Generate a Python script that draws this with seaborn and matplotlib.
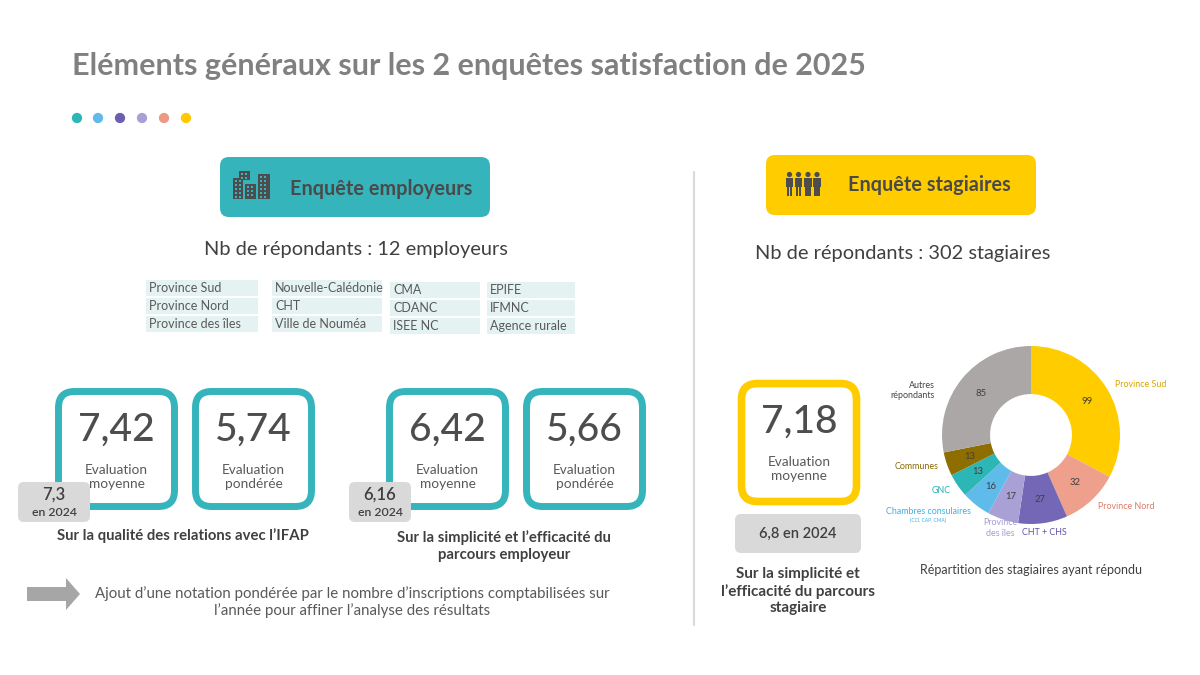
import matplotlib
matplotlib.use("Agg")
import matplotlib.pyplot as plt
from matplotlib.patches import FancyBboxPatch, FancyArrow, Rectangle, Circle
import seaborn as sns

# ---- data ----
title = "Eléments généraux sur les 2 enquêtes satisfaction de 2025"
n_employeurs = 12
n_stagiaires = 302

employer_orgs = [
    ["Province Sud", "Province Nord", "Province des îles"],
    ["Nouvelle-Calédonie", "CHT", "Ville de Nouméa"],
    ["CMA", "CDANC", "ISEE NC"],
    ["EPIFE", "IFMNC", "Agence rurale"],
]

emp_moyenne = [7.42, 6.42]
emp_ponderee = [5.74, 5.66]
emp_2024 = [7.3, 6.16]
emp_captions = ["Sur la qualité des relations avec l’IFAP",
                "Sur la simplicité et l’efficacité du\nparcours employeur"]

stag_moyenne = 7.18
stag_2024 = 6.8
stag_caption = "Sur la simplicité et\nl’efficacité du parcours\nstagiaire"

donut_labels = ["Province Sud", "Province Nord", "CHT + CHS", "Province\ndes îles",
                "Chambres consulaires", "GNC", "Communes", "Autres\nrépondants"]
donut_values = [99, 32, 27, 17, 16, 13, 13, 85]
donut_colors = ["#ffcc00", "#eea08c", "#7467b5", "#a9a1d6",
                "#5ebbea", "#2db6b6", "#8f6e00", "#aba7a7"]
label_colors = ["#d6a800", "#e07a66", "#5f54a8", "#a49bd0",
                "#3fb0e0", "#2ab0b0", "#8a6a00", "#444444"]

note = ("Ajout d’une notation pondérée par le nombre d’inscriptions comptabilisées sur\n"
        "l’année pour affiner l’analyse des résultats")

TEAL = "#35b5bb"
YELLOW = "#ffcc00"
DARK = "#404040"
MID = "#595959"


def fr(v):
    return str(v).replace(".", ",")


def rbox(ax, x0, y0, x1, y1, r, fc, ec="none", lw=0, z=1):
    ax.add_patch(FancyBboxPatch((x0, y0), x1 - x0, y1 - y0,
                                boxstyle=f"round,pad=0,rounding_size={r}",
                                fc=fc, ec=ec, lw=lw, zorder=z))


sns.set_theme(style="white")
plt.rcParams["font.family"] = ["Lato", "DejaVu Sans"]

fig = plt.figure(figsize=(12, 6.75), dpi=100)
ax = fig.add_axes([0, 0, 1, 1])
ax.set_xlim(0, 1200)
ax.set_ylim(675, 0)
ax.axis("off")

# title + coloured dots
ax.text(72, 66, title, fontsize=22, fontweight="bold", color="#808080", va="center")
dot_colors = ["#2db6b6", "#5ebbea", "#6a5fb0", "#a9a1d6", "#ec9a85", "#ffc800"]
ax.scatter([77, 98, 120, 142, 164, 186], [118] * 6, s=55, c=dot_colors, lw=0)

# vertical divider
ax.plot([694, 694], [172, 625], color="#d9d9d9", lw=1.5)

# ---- left: employeurs ----
rbox(ax, 220, 157, 490, 217, 9, TEAL)
for (x, y, w, h) in [(233, 178, 10, 21), (239, 171, 11, 9), (245, 184, 11, 15), (258, 174, 12, 25)]:
    ax.add_patch(Rectangle((x, y), w, h, fc="#4d4d4d", ec="none", zorder=3))
    for wx in range(x + 2, x + w - 2, 4):
        for wy in range(y + 2, y + h - 2, 4):
            ax.add_patch(Rectangle((wx, wy), 2, 2, fc=TEAL, ec="none", zorder=4))
ax.text(290, 189, "Enquête employeurs", fontsize=14.3, fontweight="bold", color="#4a4a4a", va="center")
ax.text(356, 249, f"Nb de répondants : {n_employeurs} employeurs", fontsize=14.4,
        color=DARK, ha="center", va="center")

col_x = [146, 272, 390, 487]
col_w = [112, 110, 90, 88]
col_y = [280, 280, 282, 282]
for c, names in enumerate(employer_orgs):
    for r, name in enumerate(names):
        y0 = col_y[c] + r * 18
        ax.add_patch(Rectangle((col_x[c], y0), col_w[c], 16, fc="#e4f2f2", ec="none"))
        ax.text(col_x[c] + 3, y0 + 8.5, name, fontsize=9, color=MID, va="center")

group_x = [55, 386]
badge_w = [72, 62]
cap_x = [183, 504]
for i in range(2):
    gx = group_x[i]
    for k, (val, lab) in enumerate([(emp_moyenne[i], "Evaluation\nmoyenne"),
                                    (emp_ponderee[i], "Evaluation\npondérée")]):
        bx = gx + k * 137
        rbox(ax, bx + 3.5, 391.5, bx + 119.5, 506.5, 16, "white", TEAL, 5, z=2)
        ax.text(bx + 61.5, 430, fr(val), fontsize=28, fontweight="medium", color="#4d4d4d",
                ha="center", va="center", zorder=3)
        ax.text(bx + 61.5, 477, lab, fontsize=9.8, color=MID, ha="center",
                va="center", linespacing=1.2, zorder=3)
    bx0 = gx - 37
    rbox(ax, bx0, 482, bx0 + badge_w[i], 522, 6, "#d9d9d9", z=5)
    ax.text(bx0 + badge_w[i] / 2, 495, fr(emp_2024[i]), fontsize=12, fontweight="semibold",
            color=DARK, ha="center", va="center", zorder=6)
    ax.text(bx0 + badge_w[i] / 2, 512, "en 2024", fontsize=8.8, fontweight="semibold",
            color=DARK, ha="center", va="center", zorder=6)
    ax.text(cap_x[i], 536 if i == 0 else 546, emp_captions[i], fontsize=10.7, fontweight="bold",
            color=DARK, ha="center", va="center", linespacing=1.25)

ax.add_patch(FancyArrow(27, 594, 53, 0, width=14, head_width=32, head_length=14,
                        length_includes_head=True, color="#a6a6a6", lw=0))
ax.text(352, 602, note, fontsize=10.8, color=MID, ha="center", va="center", linespacing=1.2)

# ---- right: stagiaires ----
rbox(ax, 766, 155, 1036, 215, 9, YELLOW)
for px in [789.5, 798.5, 808, 817]:
    ax.add_patch(Circle((px, 174.5), 2.6, fc="#4d4d4d", ec="none", zorder=3))
    ax.add_patch(Rectangle((px - 3.8, 178), 7.6, 9, fc="#4d4d4d", ec="none", zorder=3))
    ax.add_patch(Rectangle((px - 2.6, 187), 2.2, 9, fc="#4d4d4d", ec="none", zorder=3))
    ax.add_patch(Rectangle((px + 0.4, 187), 2.2, 9, fc="#4d4d4d", ec="none", zorder=3))
ax.text(848, 185, "Enquête stagiaires", fontsize=14.3, fontweight="bold", color="#4a4a4a", va="center")
ax.text(903, 253, f"Nb de répondants : {n_stagiaires} stagiaires", fontsize=14.4,
        color=DARK, ha="center", va="center")

rbox(ax, 741.5, 383.5, 856.5, 501.5, 16, "white", YELLOW, 5.5, z=2)
ax.text(799, 422, fr(stag_moyenne), fontsize=28, fontweight="medium", color="#4d4d4d",
        ha="center", va="center", zorder=3)
ax.text(799, 469, "Evaluation\nmoyenne", fontsize=9.8, color=MID, ha="center",
        va="center", linespacing=1.2, zorder=3)
rbox(ax, 735, 514, 861, 553, 6, "#d9d9d9")
ax.text(798, 534, f"{fr(stag_2024)} en 2024", fontsize=10.5, fontweight="semibold",
        color=DARK, ha="center", va="center")
ax.text(798, 591, stag_caption, fontsize=11, fontweight="bold", color=DARK,
        ha="center", va="center", linespacing=1.2)

# donut
cx, cy, R = 1031, 435, 89
L = 2.0
side = 2 * L * R
ax2 = fig.add_axes([(cx - side / 2) / 1200, (675 - cy - side / 2) / 675, side / 1200, side / 675])
total = sum(donut_values)
wedges, texts, autotexts = ax2.pie(
    donut_values, colors=donut_colors, startangle=90, counterclock=False, radius=1,
    wedgeprops=dict(width=0.54, edgecolor="none"), labels=donut_labels, labeldistance=1.1,
    autopct=lambda p: f"{p * total / 100:.0f}", pctdistance=0.73,
    textprops=dict(fontsize=6.8, linespacing=1.2))
for t, col in zip(texts, label_colors):
    t.set_color(col)
    t.set_fontsize(6.4)
    x, y = t.get_position()
    if abs(x) < 0.4:
        t.set_ha("center")
for t in autotexts:
    t.set_color("#3f3f3f")
texts[7].set_position((-1.08, 0.5))
ax2.annotate("(CCI, CAP, CMA)", xy=(0.5, 0), xycoords=texts[4], xytext=(0, -1),
             textcoords="offset points", ha="center", va="top", fontsize=3.5, color="#3fb0e0")
ax2.set_xlim(-L, L)
ax2.set_ylim(-L, L)
ax2.set_aspect("equal")
ax2.axis("off")
ax.text(cx, 570, "Répartition des stagiaires ayant répondu", fontsize=9, color=DARK,
        ha="center", va="center")

fig.savefig("out.png", dpi=100)
